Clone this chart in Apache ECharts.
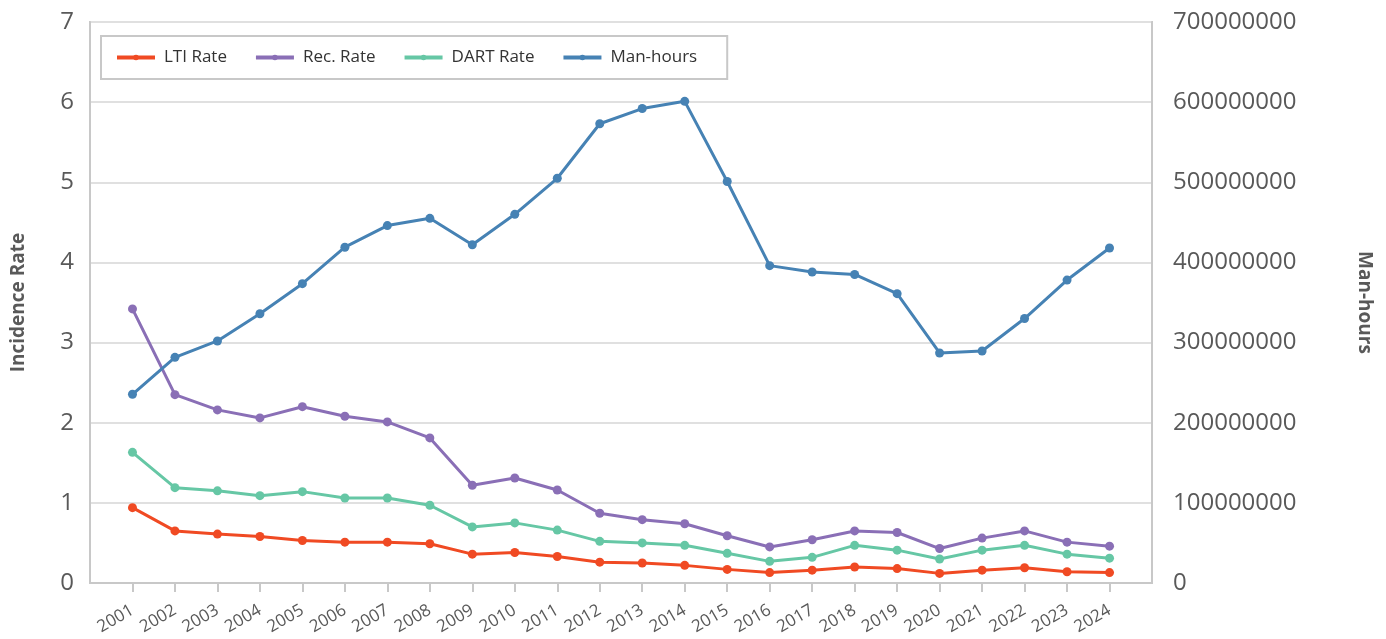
<!DOCTYPE html>
<html>
<head>
<meta charset="utf-8">
<script src="https://cdn.jsdelivr.net/npm/echarts@6/dist/echarts.min.js"></script>
<style>
    html, body { margin: 0; padding: 0; background: #fff; }
    #chart { width: 1386px; height: 639px; }
</style>
</head>
<body>
<div id="chart"></div>
<script>
// data
const years = [2001, 2002, 2003, 2004, 2005, 2006, 2007, 2008, 2009, 2010, 2011, 2012,
    2013, 2014, 2015, 2016, 2017, 2018, 2019, 2020, 2021, 2022, 2023, 2024]
const ltiRate = [0.94, 0.65, 0.61, 0.58, 0.53, 0.51, 0.51, 0.49, 0.36, 0.38, 0.33, 0.26,
    0.25, 0.22, 0.17, 0.13, 0.16, 0.20, 0.18, 0.12, 0.16, 0.19, 0.14, 0.13]
const recRate = [3.42, 2.35, 2.16, 2.06, 2.20, 2.08, 2.01, 1.81, 1.22, 1.31, 1.16, 0.87,
    0.79, 0.74, 0.59, 0.45, 0.54, 0.65, 0.63, 0.43, 0.56, 0.65, 0.51, 0.46]
const dartRate = [1.63, 1.19, 1.15, 1.09, 1.14, 1.06, 1.06, 0.97, 0.70, 0.75, 0.66, 0.52,
    0.50, 0.47, 0.37, 0.27, 0.32, 0.47, 0.41, 0.30, 0.41, 0.47, 0.36, 0.31]
const manHours = [235500000, 281600000, 302000000, 336000000, 373500000, 419000000, 446000000, 455000000,
    422000000, 460000000, 505000000, 573000000, 592000000, 601000000, 501000000, 396000000,
    388000000, 385000000, 361000000, 287000000, 289500000, 330000000, 378000000, 418000000]

// colours
const colors = ['#f04a23', '#8a6fb6', '#66c7a5', '#4682b4']
const font = "'Open Sans', 'Noto Sans', sans-serif"

let myChart = echarts.init(document.getElementById('chart'))

// pair each year with its value
function pairs(values) {
    return years.map((y, i) => [y, values[i]])
}

function lineSeries(name, data, color, yIndex) {
    return {
        name: name,
        type: 'line',
        data: pairs(data),
        yAxisIndex: yIndex,
        symbol: 'circle',
        symbolSize: 9,
        itemStyle: { color: color },
        lineStyle: { width: 3, color: color },
        emphasis: { disabled: true }
    }
}

let option = {
    animation: false,
    textStyle: { fontFamily: font },
    legend: {
        left: 101,
        top: 36,
        padding: [13, 30, 13, 14],
        borderColor: '#c8c8c8',
        borderWidth: 2,
        itemGap: 27,
        itemWidth: 38,
        itemHeight: 7,
        lineStyle: { width: 4 },
        textStyle: { fontSize: 17, color: '#333', fontFamily: font, padding: [0, 0, 0, 4] },
        data: ['LTI Rate', 'Rec. Rate', 'DART Rate', 'Man-hours']
    },
    grid: {
        left: 90,
        right: 234,
        top: 22,
        bottom: 56,
        show: true,
        borderColor: '#c8c8c8',
        borderWidth: 2
    },
    xAxis: {
        type: 'value',
        min: years[0] - 1,
        max: years[years.length - 1] + 1,
        interval: 1,
        splitLine: { show: false },
        axisLine: { lineStyle: { color: '#c8c8c8', width: 2 } },
        axisTick: { show: true, length: 9, lineStyle: { color: '#c8c8c8', width: 2 } },
        axisLabel: {
            rotate: 30,
            margin: 26,
            fontSize: 17,
            color: '#595959',
            fontFamily: font,
            showMinLabel: false,
            showMaxLabel: false,
            formatter: function (v) {
                return years.indexOf(v) >= 0 ? String(v) : ''
            }
        }
    },
    yAxis: [
        {
            type: 'value',
            min: 0,
            max: 7,
            interval: 1,
            name: 'Incidence Rate',
            nameLocation: 'middle',
            nameGap: 62,
            nameTextStyle: { fontSize: 19, fontWeight: 'bold', color: '#595959', fontFamily: font },
            axisLine: { show: true, lineStyle: { color: '#c8c8c8', width: 2 } },
            axisTick: { show: false },
            axisLabel: { fontSize: 24, color: '#595959', margin: 16, fontFamily: font },
            splitLine: { lineStyle: { color: '#e0e0e0', width: 2 } }
        },
        {
            type: 'value',
            min: 0,
            max: 700000000,
            interval: 100000000,
            position: 'right',
            name: 'Man-hours',
            nameLocation: 'middle',
            nameRotate: -90,
            nameGap: 203,
            nameTextStyle: { fontSize: 19, fontWeight: 'bold', color: '#595959', fontFamily: font },
            axisLine: { show: true, lineStyle: { color: '#c8c8c8', width: 2 } },
            axisTick: { show: false },
            axisLabel: {
                fontSize: 24, color: '#595959', margin: 21, fontFamily: font,
                formatter: function (v) { return String(v) }
            },
            splitLine: { show: false }
        }
    ],
    series: [
        lineSeries('LTI Rate', ltiRate, colors[0], 0),
        lineSeries('Rec. Rate', recRate, colors[1], 0),
        lineSeries('DART Rate', dartRate, colors[2], 0),
        lineSeries('Man-hours', manHours, colors[3], 1)
    ]
}
myChart.setOption(option)
window.addEventListener('resize', function () {
    myChart.resize()
})
</script>
</body>
</html>
